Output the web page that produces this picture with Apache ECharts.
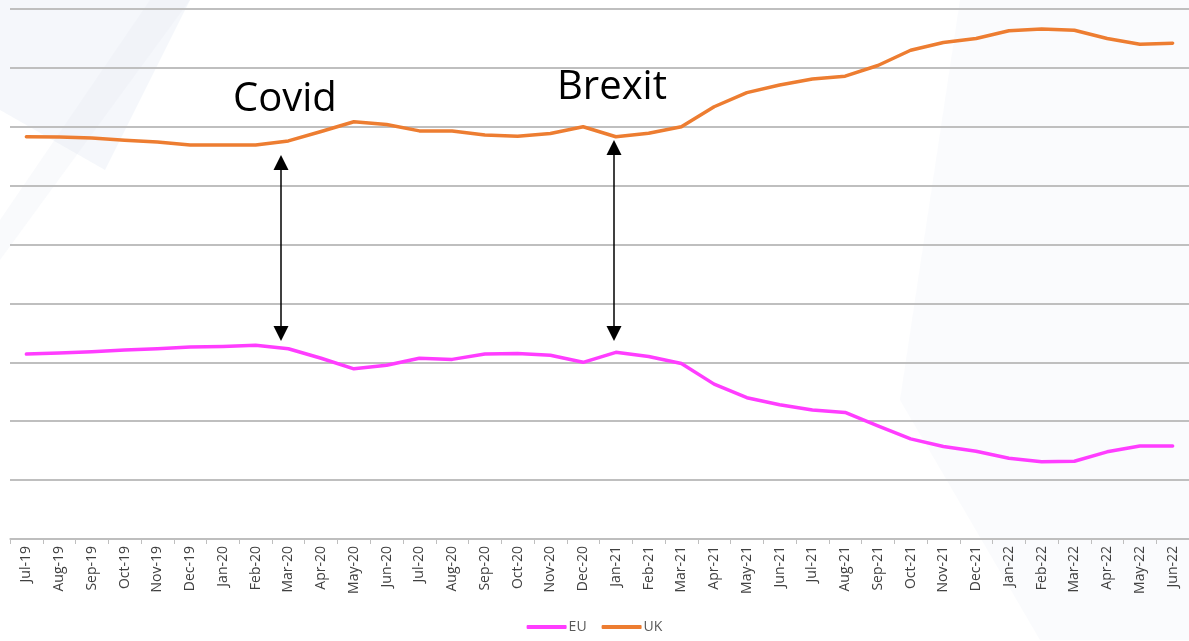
<!DOCTYPE html>
<html>
<head>
<meta charset="utf-8">
<script src="https://cdn.jsdelivr.net/npm/echarts@6/dist/echarts.min.js"></script>
<style>
html,body{margin:0;padding:0;background:#fff;}
#chart{width:1189px;height:641px;}
</style>
</head>
<body>
<div id="chart"></div>
<script>
const categories = ["Jul-19","Aug-19","Sep-19","Oct-19","Nov-19","Dec-19","Jan-20","Feb-20","Mar-20","Apr-20","May-20","Jun-20","Jul-20","Aug-20","Sep-20","Oct-20","Nov-20","Dec-20","Jan-21","Feb-21","Mar-21","Apr-21","May-21","Jun-21","Jul-21","Aug-21","Sep-21","Oct-21","Nov-21","Dec-21","Jan-22","Feb-22","Mar-22","Apr-22","May-22","Jun-22"];
const euValues = [31.4,31.6,31.8,32.1,32.3,32.6,32.7,32.9,32.3,30.7,28.9,29.5,30.7,30.5,31.4,31.5,31.2,30.0,31.7,31.0,29.8,26.3,24.0,22.8,21.9,21.5,19.2,17.0,15.7,14.9,13.7,13.1,13.2,14.8,15.8,15.8];
const ukValues = [68.3,68.25,68.1,67.7,67.4,66.9,66.9,66.9,67.6,69.2,70.85,70.4,69.3,69.3,68.6,68.4,68.85,70.0,68.3,68.9,70.0,73.4,75.8,77.1,78.1,78.6,80.4,83.0,84.3,85.0,86.3,86.6,86.4,85.0,84.0,84.2];
const yTicks = {min:0, max:90, interval:10};

const chart = echarts.init(document.getElementById('chart'), null, {renderer:'canvas'});

function arrow(x, y1, y2) {
  return [
    {type:'line', shape:{x1:x, y1:y1+12, x2:x, y2:y2-12}, style:{stroke:'#000', lineWidth:1.5}, z:100},
    {type:'polygon', shape:{points:[[x,y1],[x-7.5,y1+15],[x+7.5,y1+15]]}, style:{fill:'#000'}, z:100},
    {type:'polygon', shape:{points:[[x,y2],[x-7.5,y2-15],[x+7.5,y2-15]]}, style:{fill:'#000'}, z:100}
  ];
}

const option = {
  backgroundColor:'#ffffff',
  animation:false,
  grid:{left:10, right:-6, top:9, bottom:102, containLabel:false},
  legend:{
    bottom:2, left:'center',
    data:['EU','UK'],
    icon:'roundRect',
    itemWidth:40, itemHeight:4, itemGap:15,
    textStyle:{color:'#595959', fontSize:14, fontFamily:'Open Sans', padding:[0,0,0,-3]}
  },
  xAxis:{
    type:'category',
    data:categories,
    boundaryGap:true,
    axisLine:{show:true, lineStyle:{color:'#bfbfbf', width:1.5}},
    axisTick:{show:true, length:5, lineStyle:{color:'#bfbfbf', width:1}},
    axisLabel:{rotate:90, interval:0, color:'#404040', fontSize:14, fontFamily:'Open Sans', margin:7}
  },
  yAxis:{
    type:'value',
    min:yTicks.min, max:yTicks.max, interval:yTicks.interval,
    axisLabel:{show:false},
    axisLine:{show:false},
    axisTick:{show:false},
    splitLine:{show:true, lineStyle:{color:'#bfbfbf', width:1.8}}
  },
  series:[
    {name:'EU', type:'line', data:euValues, symbol:'none', smooth:false,
     lineStyle:{color:'#ff3dff', width:3.5, cap:'round', join:'round'}, itemStyle:{color:'#ff3dff'}},
    {name:'UK', type:'line', data:ukValues, symbol:'none', smooth:false,
     lineStyle:{color:'#ed7d31', width:3.5, cap:'round', join:'round'}, itemStyle:{color:'#ed7d31'}}
  ],
  graphic:[
    {type:'polygon', silent:true, z:-10, shape:{points:[[0,0],[190,0],[105,170],[0,110]]}, style:{fill:'rgba(215,225,238,0.25)'}},
    {type:'polygon', silent:true, z:-10, shape:{points:[[190,0],[0,260],[0,220],[150,0]]}, style:{fill:'rgba(225,232,242,0.2)'}},
    {type:'polygon', silent:true, z:-10, shape:{points:[[960,0],[1189,0],[1189,640],[1040,640],[900,400]]}, style:{fill:'rgba(232,237,244,0.2)'}},
    {type:'text', z:100, style:{text:'Covid', x:233, y:120, textVerticalAlign:'bottom', font:'40px "Open Sans"', fill:'#000'}},
    {type:'text', z:100, style:{text:'Brexit', x:557, y:108, textVerticalAlign:'bottom', font:'40px "Open Sans"', fill:'#000'}},
    ...arrow(281, 155, 341),
    ...arrow(614, 140, 341)
  ]
};
chart.setOption(option);
</script>
</body>
</html>
